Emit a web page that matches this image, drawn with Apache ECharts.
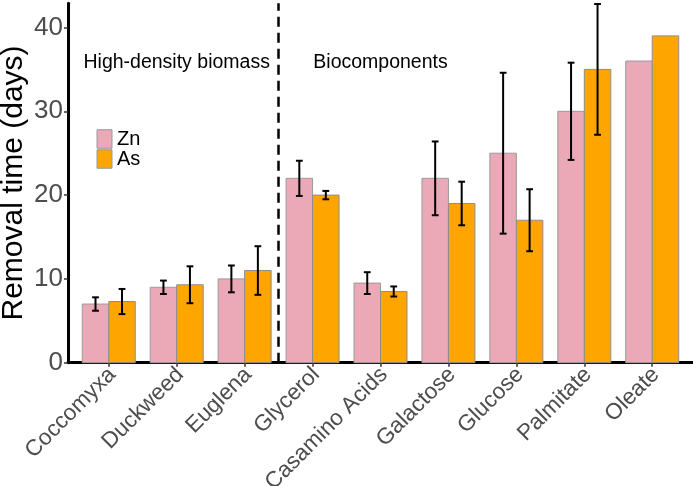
<!DOCTYPE html>
<html>
<head>
<meta charset="utf-8">
<script src="https://cdn.jsdelivr.net/npm/echarts@6/dist/echarts.min.js"></script>
<style>html,body{margin:0;padding:0;background:#fff}#chart{width:693px;height:486px}</style>
</head>
<body>
<div id="chart"></div>
<script>
const categories = ['Coccomyxa','Duckweed','Euglena','Glycerol','Casamino Acids','Galactose','Glucose','Palmitate','Oleate'];
const znValues = [7, 9, 10, 22, 9.5, 22, 25, 30, 36];
const znErrors = [0.8, 0.8, 1.6, 2.1, 1.3, 4.4, 9.6, 5.8, null];
const asValues = [7.3, 9.3, 11, 20, 8.5, 19, 17, 35, 39];
const asErrors = [1.5, 2.2, 2.9, 0.5, 0.6, 2.6, 3.7, 7.8, null];
const yTicks = [0, 10, 20, 30, 40];
const groupLabels = [
  {name: 'High-density biomass', x: 1, y: 35.8},
  {name: 'Biocomponents', x: 4, y: 35.8}
];
const dividerX = 2.5;

const FONT = "'Liberation Sans', Arial, Helvetica, sans-serif";
const BW = 0.39;      // bar width in category units
const CAP = 0.05;     // half cap width

function makeRender(side, fill, border) {
  return function (params, api) {
    const x = api.value(0), y = api.value(1), e = api.value(2);
    const left = side < 0 ? x - BW : x;
    const right = side < 0 ? x : x + BW;
    const pTop = api.coord([left, y]);
    const pBot = api.coord([right, 0]);
    const children = [{
      type: 'rect',
      shape: {x: pTop[0], y: pTop[1], width: pBot[0] - pTop[0], height: pBot[1] - pTop[1]},
      style: {fill: fill, stroke: border, lineWidth: 1}
    }];
    if (e != null && !isNaN(e) && e > 0) {
      const cx = (left + right) / 2;
      const hi = api.coord([cx, y + e]);
      const lo = api.coord([cx, y - e]);
      const cl = api.coord([cx - CAP, y])[0];
      const cr = api.coord([cx + CAP, y])[0];
      const ls = {stroke: '#000', lineWidth: 2};
      children.push({type: 'line', shape: {x1: hi[0], y1: hi[1], x2: lo[0], y2: lo[1]}, style: ls, z2: 5});
      children.push({type: 'line', shape: {x1: cl, y1: hi[1], x2: cr, y2: hi[1]}, style: ls, z2: 5});
      children.push({type: 'line', shape: {x1: cl, y1: lo[1], x2: cr, y2: lo[1]}, style: ls, z2: 5});
    }
    return {type: 'group', children: children};
  };
}

const znData = categories.map((c, i) => [i, znValues[i], znErrors[i] == null ? NaN : znErrors[i]]);
const asData = categories.map((c, i) => [i, asValues[i], asErrors[i] == null ? NaN : asErrors[i]]);

const chart = echarts.init(document.getElementById('chart'), null, {renderer: 'canvas'});
chart.setOption({
  animation: false,
  backgroundColor: '#fff',
  textStyle: {fontFamily: FONT},
  grid: {left: 68, right: 0, top: 3.2, bottom: 123.3, containLabel: false, outerBoundsMode: 'none'},
  legend: {
    orient: 'vertical', left: 96.5, top: 129, padding: 0,
    itemWidth: 15, itemHeight: 18.5, itemGap: 0,
    icon: 'rect',
    textStyle: {fontSize: 20, color: '#000', fontFamily: FONT, lineHeight: 19},
    data: [
      {name: 'Zn', itemStyle: {color: '#EBA9B7', borderColor: '#999', borderWidth: 1}},
      {name: 'As', itemStyle: {color: '#FFA500', borderColor: '#999', borderWidth: 1}}
    ]
  },
  xAxis: {
    type: 'value', min: -0.6, max: 8.6,
    splitLine: {show: false},
    axisLine: {show: true, onZero: false, lineStyle: {color: '#000', width: 3}},
    axisTick: {show: true, customValues: categories.map((c, i) => i), length: 4, lineStyle: {color: '#333', width: 1.5}},
    axisLabel: {
      customValues: categories.map((c, i) => i),
      formatter: v => categories[Math.round(v)],
      rotate: 45, fontSize: 22.5, color: '#4D4D4D', margin: 12, padding: [26, -5, 0, 0], fontFamily: FONT
    }
  },
  yAxis: {
    type: 'value', min: 0, max: 42.9, interval: 10,
    splitLine: {show: false},
    axisLine: {show: true, onZero: false, lineStyle: {color: '#000', width: 3}},
    axisTick: {show: true, customValues: yTicks, length: 4, lineStyle: {color: '#333', width: 1.5}},
    axisLabel: {customValues: yTicks, fontSize: 26, color: '#4D4D4D', margin: 5, fontFamily: FONT},
    name: 'Removal time (days)', nameLocation: 'middle', nameGap: 39, nameMoveOverlap: false,
    nameTextStyle: {fontSize: 30, color: '#000', fontFamily: FONT}
  },
  series: [
    {
      name: 'Zn', type: 'custom', data: znData,
      encode: {x: 0, y: 1},
      itemStyle: {color: '#EBA9B7'},
      renderItem: makeRender(-1, '#EBA9B7', '#9a9a9a'),
      markLine: {
        silent: true, symbol: 'none', label: {show: false},
        lineStyle: {color: '#000', width: 2.5, type: [10, 6]},
        data: [{xAxis: dividerX}]
      },
      markPoint: {
        silent: true, symbol: 'rect', symbolSize: 0,
        label: {show: true, formatter: p => p.name, fontSize: 19.5, color: '#000', fontFamily: FONT, position: 'inside'},
        data: groupLabels.map(g => ({name: g.name, coord: [g.x, g.y]}))
      }
    },
    {
      name: 'As', type: 'custom', data: asData,
      encode: {x: 0, y: 1},
      itemStyle: {color: '#FFA500'},
      renderItem: makeRender(1, '#FFA500', '#8d8d8d')
    }
  ]
});
</script>
</body>
</html>
